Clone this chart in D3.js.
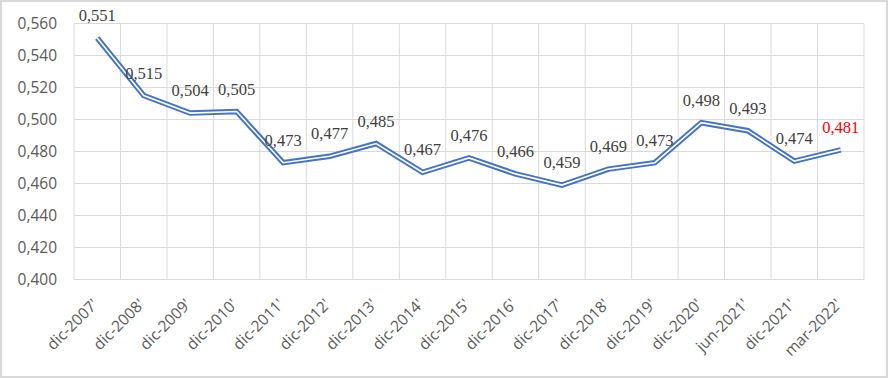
<!DOCTYPE html>
<html><head><meta charset="utf-8">
<script src="https://cdn.jsdelivr.net/npm/d3@7"></script>
<style>body{margin:0;background:#fff}svg{display:block}</style>
</head><body><svg id="c" width="888" height="378"></svg>
<script>
const categories = ["dic-2007'","dic-2008'","dic-2009'","dic-2010'","dic-2011'","dic-2012'","dic-2013'","dic-2014'","dic-2015'","dic-2016'","dic-2017'","dic-2018'","dic-2019'","dic-2020'","jun-2021'","dic-2021'","mar-2022'"];
const values = [0.551,0.515,0.504,0.505,0.473,0.477,0.485,0.467,0.476,0.466,0.459,0.469,0.473,0.498,0.493,0.474,0.481];
const yTicks = [0.400,0.420,0.440,0.460,0.480,0.500,0.520,0.540,0.560];

const svg = d3.select("#c");
const W = 888, H = 378;
const m = {left:74, right:24, top:23.5, bottom:98.5};
const fmt = v => d3.format(".3f")(v).replace(".", ",");

svg.append("rect").attr("x",1).attr("y",1).attr("width",W-2).attr("height",H-2)
  .attr("fill","#fff").attr("stroke","#d9d9d9").attr("stroke-width",2);

const x = d3.scaleBand().domain(categories).range([m.left, W-m.right]);
const y = d3.scaleLinear().domain([0.40,0.56]).range([H-m.bottom, m.top]);

svg.append("g").selectAll("line").data(yTicks).join("line")
  .attr("x1",m.left).attr("x2",W-m.right)
  .attr("y1",d=>y(d)).attr("y2",d=>y(d))
  .attr("stroke","#d9d9d9").attr("stroke-width",1);
const edges = categories.map(c=>x(c)).concat([x(categories[categories.length-1])+x.bandwidth()]);
svg.append("g").selectAll("line").data(edges).join("line")
  .attr("x1",d=>d).attr("x2",d=>d)
  .attr("y1",y(0.56)).attr("y2",y(0.40))
  .attr("stroke","#d9d9d9").attr("stroke-width",1);

svg.append("g").selectAll("text").data(yTicks).join("text")
  .attr("x",57).attr("y",d=>y(d)).attr("dy","0.36em")
  .attr("text-anchor","end").attr("fill","#595959")
  .style("font-family","'Open Sans', sans-serif").style("font-size","15.5px")
  .text(fmt);

svg.append("g").selectAll("text").data(categories).join("text")
  .attr("transform",d=>`translate(${x(d)+x.bandwidth()/2-2},${y(0.40)+22}) rotate(-45)`)
  .attr("text-anchor","end").attr("dy","0.35em").attr("fill","#595959")
  .style("font-family","'Open Sans', sans-serif").style("font-size","15.5px")
  .text(d=>d);

const line = d3.line().x((d,i)=>x(categories[i])+x.bandwidth()/2).y(d=>y(d));
svg.append("path").datum(values).attr("d",line).attr("fill","none")
  .attr("stroke","#4472C4").attr("stroke-width",5.5).attr("stroke-linejoin","miter");
svg.append("path").datum(values).attr("d",line).attr("fill","none")
  .attr("stroke","#fff").attr("stroke-width",1.6).attr("stroke-linejoin","miter");

svg.append("g").selectAll("text").data(values).join("text")
  .attr("x",(d,i)=>x(categories[i])+x.bandwidth()/2)
  .attr("y",d=>y(d)-17)
  .attr("text-anchor","middle")
  .attr("fill",(d,i)=>i===values.length-1?"#FF0000":"#404040")
  .style("font-family","'Liberation Serif','Times New Roman',serif").style("font-size","16.5px")
  .text(fmt);
</script></body></html>
